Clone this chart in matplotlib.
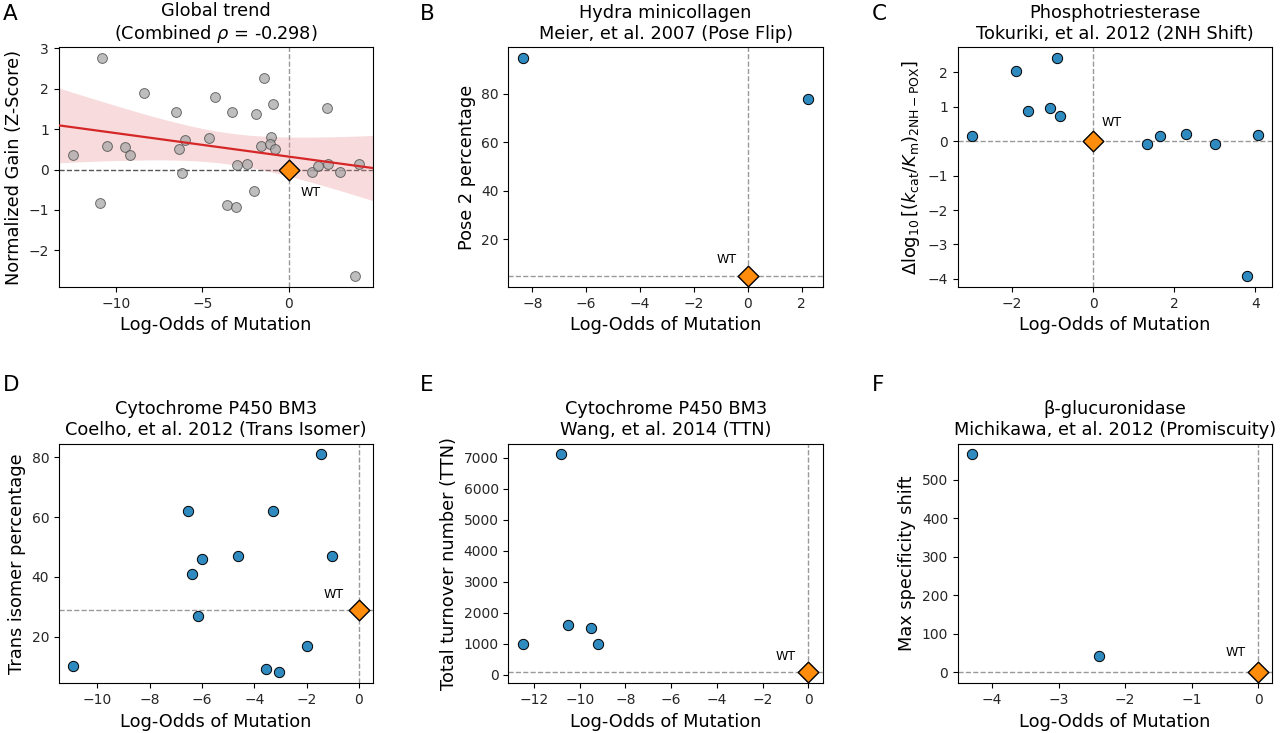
import numpy as np
import matplotlib.pyplot as plt
from matplotlib.ticker import MultipleLocator

# ---- data ----
# A: combined z-scored gains
a_x = [-10.77, -10.90, -12.46, -10.50, -9.48, -9.17, -8.37, -6.50, -6.37, -6.15, -6.00,
       -4.62, -4.27, -3.56, -3.29, -3.08, -2.98, -2.40, -2.02, -1.92, -1.60, -1.44,
       -1.02, -1.08, -0.90, -0.83, 1.31, 1.65, 2.21, 2.25, 2.94, 3.79, 4.04]
a_y = [2.76, -0.82, 0.36, 0.59, 0.56, 0.36, 1.89, 1.43, 0.52, -0.09, 0.74,
       0.78, 1.80, -0.87, 1.43, -0.92, 0.11, 0.14, -0.52, 1.37, 0.58, 2.26,
       0.80, 0.63, 1.62, 0.51, -0.05, 0.10, 1.53, 0.15, -0.05, -2.64, 0.13]
a_wt = 0.0

# B: Hydra minicollagen
b_x = [-8.36, 2.25]
b_y = [94.8, 77.9]
b_wt = 4.7

# C: Phosphotriesterase
c_x = [-2.98, -1.91, -1.60, -1.06, -0.89, -0.81, 1.34, 1.66, 2.29, 3.00, 3.80, 4.07]
c_y = [0.15, 2.05, 0.87, 0.95, 2.41, 0.74, -0.07, 0.14, 0.21, -0.07, -3.92, 0.18]
c_wt = 0.0

# D: P450 BM3 trans isomer
d_x = [-10.93, -6.53, -6.39, -6.16, -6.02, -4.63, -3.56, -3.04, -3.28, -1.98, -1.44, -1.02]
d_y = [10, 62, 41, 27, 46, 47, 9, 8, 62, 17, 81, 47]
d_wt = 29

# E: P450 BM3 TTN
e_x = [-12.49, -10.81, -10.53, -9.51, -9.20]
e_y = [1000, 7100, 1600, 1500, 1000]
e_wt = 75

# F: beta-glucuronidase
f_x = [-4.30, -2.39]
f_y = [566, 42]
f_wt = 0

BLUE = "#2f8abf"
ORANGE = "#ff8c0a"

fig, axes = plt.subplots(2, 3, figsize=(12.8, 7.33), dpi=100)
plt.subplots_adjust(left=0.046, right=0.994, top=0.9355, bottom=0.0678,
                    wspace=0.43, hspace=0.653)

TITLE_FS = 12.8
LABEL_FS = 12.8
TICK_FS = 10


def wt_marker(ax, y, offset, ha, va):
    ax.scatter([0], [y], marker="D", s=110, color=ORANGE, edgecolor="black",
               linewidth=1.0, zorder=5)
    ax.annotate("WT", (0, y), xytext=offset, textcoords="offset points",
                ha=ha, va=va, fontsize=9)


def style(ax, title, ylabel, xstep, ystep):
    ax.set_title(title, fontsize=TITLE_FS)
    ax.set_ylabel(ylabel, fontsize=LABEL_FS)
    ax.set_xlabel("Log-Odds of Mutation", fontsize=LABEL_FS)
    ax.tick_params(labelsize=TICK_FS, labelcolor="#262626")
    ax.xaxis.set_major_locator(MultipleLocator(xstep))
    ax.yaxis.set_major_locator(MultipleLocator(ystep))


def panel(ax, xs, ys, wt, title, ylabel, offset, ha, va, xstep, ystep):
    ax.axvline(0, color="grey", ls="--", lw=1, alpha=0.8, zorder=1)
    ax.axhline(wt, color="grey", ls="--", lw=1, alpha=0.8, zorder=1)
    ax.scatter(xs, ys, s=55, color=BLUE, edgecolor="black", linewidth=0.7, zorder=3)
    wt_marker(ax, wt, offset, ha, va)
    style(ax, title, ylabel, xstep, ystep)


# panel A
ax = axes[0, 0]
ax.axvline(0, color="grey", ls="--", lw=1, alpha=0.8, zorder=1)
ax.axhline(a_wt, color="#555555", ls="--", lw=1, zorder=1)
ax.scatter(a_x, a_y, s=50, color="#a8a8a8", edgecolor="#444444", linewidth=0.7,
           alpha=0.75, zorder=3)
x = np.array(a_x)
y = np.array(a_y)
slope, intercept = np.polyfit(x, y, 1)
xlim = (x.min() - 0.05 * np.ptp(x), x.max() + 0.05 * np.ptp(x))
xx = np.linspace(xlim[0], xlim[1], 200)
n = len(x)
resid = y - (slope * x + intercept)
s_err = np.sqrt(np.sum(resid ** 2) / (n - 2))
se = s_err * np.sqrt(1 / n + (xx - x.mean()) ** 2 / np.sum((x - x.mean()) ** 2))
yy = slope * xx + intercept
ax.fill_between(xx, yy - 2.15 * se, yy + 2.15 * se, color="#e8898c", alpha=0.3,
                linewidth=0, zorder=2)
ax.plot(xx, yy, color="#d62728", lw=1.6, zorder=4)
wt_marker(ax, a_wt, (8, -12), "left", "top")
ax.set_xlim(xlim)
style(ax, "Global trend\n(Combined $\\rho$ = -0.298)", "Normalized Gain (Z-Score)", 5, 1)

panel(axes[0, 1], b_x, b_y, b_wt, "Hydra minicollagen\nMeier, et al. 2007 (Pose Flip)",
      "Pose 2 percentage", (-8, 7), "right", "bottom", 2, 20)
panel(axes[0, 2], c_x, c_y, c_wt, "Phosphotriesterase\nTokuriki, et al. 2012 (2NH Shift)",
      r"$\Delta\log_{10}[(k_{\rm cat}/K_{\rm m})_{\rm 2NH-POX}]$", (6, 9), "left", "bottom",
      2, 1)
panel(axes[1, 0], d_x, d_y, d_wt, "Cytochrome P450 BM3\nCoelho, et al. 2012 (Trans Isomer)",
      "Trans isomer percentage", (-11, 6), "right", "bottom", 2, 20)
panel(axes[1, 1], e_x, e_y, e_wt, "Cytochrome P450 BM3\nWang, et al. 2014 (TTN)",
      "Total turnover number (TTN)", (-9, 7), "right", "bottom", 2, 1000)
panel(axes[1, 2], f_x, f_y, f_wt, "\u03b2-glucuronidase\nMichikawa, et al. 2012 (Promiscuity)",
      "Max specificity shift", (-9, 10), "right", "bottom", 1, 100)

# panel letters at fixed figure positions
letter_x = [3, 420, 872]
letter_y = [4, 375]
for i, letter in enumerate("ABCDEF"):
    fig.text(letter_x[i % 3] / 1280, 1 - letter_y[i // 3] / 733, letter,
             fontsize=15.5, va="top", ha="left")

fig.savefig("out.png", dpi=100)
